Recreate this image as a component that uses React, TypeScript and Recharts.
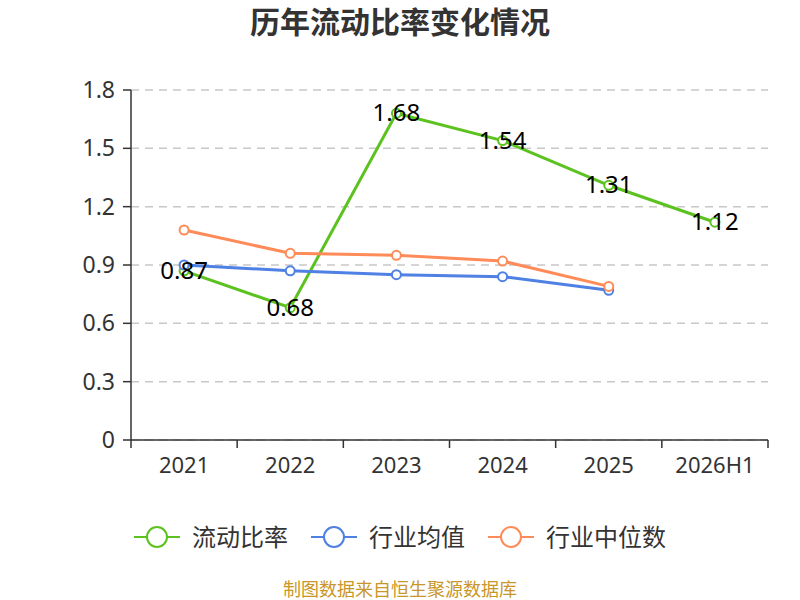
import { CartesianGrid, LabelList, Line, LineChart, XAxis, YAxis } from "recharts";

const YEARS = ["2021", "2022", "2023", "2024", "2025", "2026H1"];
const CURRENT_RATIO = [0.87, 0.68, 1.68, 1.54, 1.31, 1.12];
const INDUSTRY_AVG = [0.9, 0.87, 0.85, 0.84, 0.77, null];
const INDUSTRY_MEDIAN = [1.08, 0.96, 0.95, 0.92, 0.79, null];
const Y_TICKS = [0, 0.3, 0.6, 0.9, 1.2, 1.5, 1.8];

const GREEN = "#5cc21f";
const BLUE = "#4f80e3";
const ORANGE = "#ff8b58";
const FONT = "'Noto Sans', 'Noto Sans CJK SC', sans-serif";

const SERIES = [
  { key: "ratio", name: "流动比率", color: GREEN },
  { key: "avg", name: "行业均值", color: BLUE },
  { key: "median", name: "行业中位数", color: ORANGE },
];

const W = 800;
const H = 600;
const LEFT = 131;
const RIGHT = 32;
const BAND = (W - LEFT - RIGHT) / YEARS.length;

const data = YEARS.map((year, i) => ({
  year,
  ratio: CURRENT_RATIO[i],
  avg: INDUSTRY_AVG[i],
  median: INDUSTRY_MEDIAN[i],
}));

function XTick(props: any) {
  const { x, y, payload, index } = props;
  const last = index === YEARS.length - 1;
  return (
    <g>
      <line x1={x - BAND / 2} x2={x - BAND / 2} y1={y - 8} y2={y} stroke="#333" strokeWidth={1.5} />
      {last && <line x1={x + BAND / 2} x2={x + BAND / 2} y1={y - 8} y2={y} stroke="#333" strokeWidth={1.5} />}
      <text x={x} y={y + 25} textAnchor="middle" fill="#333" fontSize={22} fontFamily={FONT}>
        {payload.value}
      </text>
    </g>
  );
}

function ValueLabel(props: any) {
  const { x, y, value } = props;
  return (
    <text x={x} y={y} dy={8} textAnchor="middle" fill="#000" fontSize={24} fontFamily={FONT}>
      {Number(value).toFixed(2)}
    </text>
  );
}

export default function App() {
  return (
    <div style={{ position: "relative", width: W, height: H, background: "#fff", fontFamily: FONT, overflow: "hidden" }}>
      <style>{`body{margin:0}`}</style>
      <div
        style={{
          position: "absolute",
          top: 0,
          width: W,
          lineHeight: "44px",
          textAlign: "center",
          fontSize: 30,
          fontWeight: "bold",
          color: "#333",
        }}
      >
        历年流动比率变化情况
      </div>
      <LineChart width={W} height={H} data={data} margin={{ top: 90, right: RIGHT, bottom: 130, left: 0 }}>
        <CartesianGrid vertical={false} stroke="#c8c8c8" strokeDasharray="8 6" strokeWidth={1.5} />
        <XAxis
          dataKey="year"
          height={30}
          padding={{ left: BAND / 2, right: BAND / 2 }}
          tickLine={false}
          axisLine={{ stroke: "#333", strokeWidth: 1.5 }}
          tick={<XTick />}
          interval={0}
        />
        <YAxis
          width={LEFT}
          domain={[0, 1.8]}
          ticks={Y_TICKS}
          interval={0}
          tickFormatter={(v: number) => (v === 0 ? "0" : v.toFixed(1))}
          axisLine={{ stroke: "#333", strokeWidth: 1.5 }}
          tickLine={{ stroke: "#333", strokeWidth: 1.5 }}
          tickSize={8}
          tickMargin={8}
          tick={{ fill: "#333", fontSize: 23, fontFamily: FONT }}
        />
        {SERIES.map((s) => (
          <Line
            key={s.key}
            dataKey={s.key}
            name={s.name}
            stroke={s.color}
            strokeWidth={3}
            dot={{ r: 4.5, fill: "#fff", stroke: s.color, strokeWidth: 2 }}
            activeDot={false}
            isAnimationActive={false}
          >
            {s.key === "ratio" && <LabelList dataKey="ratio" content={<ValueLabel />} />}
          </Line>
        ))}
      </LineChart>
      <div
        style={{
          position: "absolute",
          top: 520,
          width: W,
          display: "flex",
          justifyContent: "center",
          gap: 23,
          fontSize: 24,
          lineHeight: "34px",
          color: "#333",
        }}
      >
        {SERIES.map((s) => (
          <div key={s.key} style={{ display: "flex", alignItems: "center", gap: 12 }}>
            <svg width={46} height={30}>
              <line x1={0} x2={46} y1={15} y2={15} stroke={s.color} strokeWidth={2} />
              <circle cx={23} cy={15} r={10} fill="#fff" stroke={s.color} strokeWidth={2} />
            </svg>
            <span>{s.name}</span>
          </div>
        ))}
      </div>
      <div
        style={{
          position: "absolute",
          top: 578,
          width: W,
          lineHeight: "22px",
          textAlign: "center",
          fontSize: 18,
          color: "#c9962a",
        }}
      >
        制图数据来自恒生聚源数据库
      </div>
    </div>
  );
}
